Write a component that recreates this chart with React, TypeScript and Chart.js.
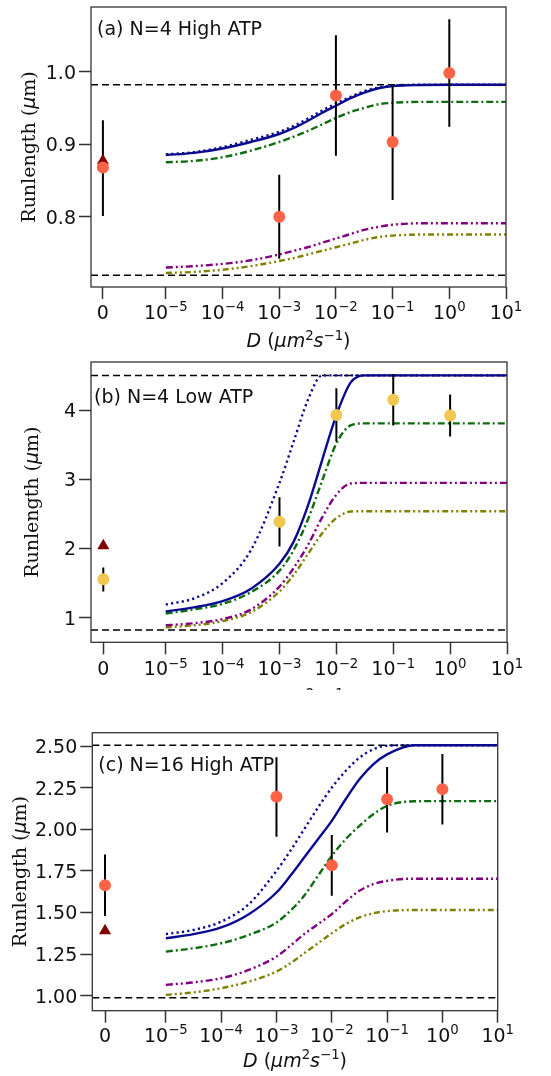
import React, { useEffect, useRef } from 'react';
import { Chart, registerables } from 'chart.js';

Chart.register(...registerables);

const SANS = '"DejaVu Sans", sans-serif';
const SERIF = '"DejaVu Serif", serif';
const FONT_SIZE = 19;
Chart.defaults.font.family = SANS;

// ---------- shared data ----------
const LOG_D_GRID = [-5, -4.5, -4, -3.5, -3, -2.75, -2.5, -2.25, -2, -1.75, -1.5, -1.25, -1, -0.5, 0, 0.5, 1];
const D_MEASURED = [0, 1e-3, 1e-2, 1e-1, 1];
const X_TICK_EXP = [-5, -4, -3, -2, -1, 0, 1];
const X_ZERO_LABEL = '0';
const X_TICK_BASE = '10';

// ---------- (a) N=4 High ATP ----------
const A_MEAN = [0.868, 0.8, 0.967, 0.903, 0.998];
const A_LOW = [0.801, 0.742, 0.884, 0.823, 0.924];
const A_HIGH = [0.933, 0.858, 1.05, 0.981, 1.072];
const A_TRIANGLE = 0.877;
const A_SOLID = [0.885, 0.888, 0.894, 0.903, 0.914, 0.922, 0.932, 0.943, 0.953, 0.963, 0.971, 0.977, 0.98, 0.9815, 0.9818, 0.9818, 0.9818];
const A_DOTTED = [0.886, 0.889, 0.896, 0.906, 0.917, 0.925, 0.935, 0.946, 0.956, 0.965, 0.973, 0.978, 0.981, 0.9818, 0.9818, 0.9818, 0.9818];
const A_DASHDOT = [0.875, 0.877, 0.882, 0.891, 0.903, 0.91, 0.918, 0.927, 0.936, 0.944, 0.95, 0.955, 0.957, 0.9583, 0.9583, 0.9583, 0.9583];
const A_PURPLE = [0.73, 0.732, 0.735, 0.74, 0.748, 0.753, 0.758, 0.764, 0.77, 0.776, 0.782, 0.786, 0.789, 0.791, 0.791, 0.791, 0.791];
const A_OLIVE = [0.7225, 0.724, 0.727, 0.732, 0.739, 0.743, 0.748, 0.753, 0.758, 0.763, 0.768, 0.772, 0.774, 0.7755, 0.7755, 0.7755, 0.7755];
const A_BOUNDS = [0.9818, 0.7195];
const A_Y_TICKS = [0.8, 0.9, 1.0];

// ---------- (b) N=4 Low ATP ----------
const B_MEAN = [1.556, 2.386, 3.933, 4.152, 3.924];
const B_LOW = [1.379, 2.03, 3.548, 3.779, 3.621];
const B_HIGH = [1.726, 2.742, 4.318, 4.525, 4.228];
const B_TRIANGLE = 2.04;
const B_SOLID = [1.09, 1.15, 1.24, 1.42, 1.78, 2.1, 2.62, 3.28, 3.93, 4.4, 4.504, 4.504, 4.504, 4.504, 4.504, 4.504, 4.504];
const B_DOTTED = [1.19, 1.28, 1.5, 1.98, 2.95, 3.55, 4.15, 4.504, 4.504, 4.504, 4.504, 4.504, 4.504, 4.504, 4.504, 4.504, 4.504];
const B_DASHDOT = [1.06, 1.12, 1.2, 1.37, 1.68, 1.98, 2.42, 2.98, 3.52, 3.78, 3.81, 3.81, 3.81, 3.81, 3.81, 3.81, 3.81];
const B_PURPLE = [0.89, 0.92, 0.98, 1.12, 1.45, 1.72, 2.05, 2.45, 2.78, 2.94, 2.95, 2.95, 2.95, 2.95, 2.95, 2.95, 2.95];
const B_OLIVE = [0.86, 0.89, 0.95, 1.08, 1.38, 1.62, 1.92, 2.22, 2.44, 2.535, 2.54, 2.54, 2.54, 2.54, 2.54, 2.54, 2.54];
const B_BOUNDS = [4.504, 0.823];
const B_Y_TICKS = [1, 2, 3, 4];

// ---------- (c) N=16 High ATP ----------
const C_MEAN = [1.663, 2.195, 1.783, 2.18, 2.241];
const C_LOW = [1.479, 1.955, 1.6, 1.981, 2.029];
const C_HIGH = [1.849, 2.432, 1.965, 2.374, 2.452];
const C_TRIANGLE = 1.39;
const C_SOLID = [1.345, 1.37, 1.41, 1.49, 1.62, 1.72, 1.83, 1.94, 2.05, 2.18, 2.3, 2.39, 2.45, 2.505, 2.505, 2.505, 2.505];
const C_DOTTED = [1.37, 1.395, 1.445, 1.55, 1.75, 1.87, 2.0, 2.13, 2.25, 2.35, 2.43, 2.48, 2.502, 2.505, 2.505, 2.505, 2.505];
const C_DASHDOT = [1.265, 1.285, 1.315, 1.365, 1.44, 1.51, 1.6, 1.72, 1.84, 1.94, 2.02, 2.09, 2.14, 2.168, 2.169, 2.169, 2.169];
const C_PURPLE = [1.065, 1.08, 1.105, 1.155, 1.235, 1.3, 1.37, 1.43, 1.49, 1.565, 1.63, 1.67, 1.69, 1.703, 1.703, 1.703, 1.703];
const C_OLIVE = [1.005, 1.02, 1.045, 1.085, 1.145, 1.195, 1.255, 1.315, 1.375, 1.43, 1.47, 1.495, 1.508, 1.515, 1.515, 1.515, 1.515];
const C_BOUNDS = [2.505, 0.988];
const C_Y_TICKS = [1.0, 1.25, 1.5, 1.75, 2.0, 2.25, 2.5];

type Piece = { t: string; it?: boolean; sup?: boolean; serif?: boolean };
const X_TITLE: Piece[] = [
  { t: 'D', it: true },
  { t: ' (' },
  { t: 'μm', it: true },
  { t: '2', sup: true },
  { t: 's', it: true },
  { t: '−1', sup: true },
  { t: ')' },
];
const Y_TITLE: Piece[] = [
  { t: 'Runlength (', serif: true },
  { t: 'μ', it: true },
  { t: 'm)', serif: true },
];

function fontOf(p: Piece, size: number) {
  const s = p.sup ? size * 0.7 : size;
  return `${p.it ? 'italic ' : ''}${s}px ${p.serif ? SERIF : SANS}`;
}

function drawPieces(ctx: CanvasRenderingContext2D, pieces: Piece[], cx: number, y: number, size: number, align = 'center') {
  const widths = pieces.map((p) => {
    ctx.font = fontOf(p, size);
    return ctx.measureText(p.t).width;
  });
  const total = widths.reduce((a, b) => a + b, 0);
  let x = align === 'right' ? cx - total : cx - total / 2;
  pieces.forEach((p, i) => {
    ctx.font = fontOf(p, size);
    ctx.fillText(p.t, x, p.sup ? y - size * 0.38 : y);
    x += widths[i];
  });
}

function xTickPieces(i: number): Piece[] {
  if (i === 0) return [{ t: X_ZERO_LABEL }];
  const e = X_TICK_EXP[i - 1];
  return [{ t: X_TICK_BASE }, { t: (e < 0 ? '−' : '') + Math.abs(e), sup: true }];
}

const panelPlugin = {
  id: 'panelDecor',
  afterDatasetsDraw(chart: any, _args: any, opts: any) {
    const { ctx, chartArea: ca } = chart;
    ctx.save();
    ctx.strokeStyle = '#333';
    ctx.lineWidth = 1.3;
    ctx.strokeRect(ca.left, ca.top, ca.right - ca.left, ca.bottom - ca.top);
    ctx.fillStyle = '#111';
    ctx.font = `${FONT_SIZE}px ${SANS}`;
    ctx.textAlign = 'left';
    ctx.textBaseline = 'alphabetic';
    ctx.fillText(opts.title, ca.left + opts.titleDx, ca.top + opts.titleDy);
    ctx.restore();
  },
  afterDraw(chart: any, _args: any, opts: any) {
    const { ctx, chartArea: ca } = chart;
    const xs = chart.scales.x;
    const ys = chart.scales.y;
    ctx.save();
    ctx.fillStyle = '#111';
    ctx.textAlign = 'left';
    ctx.textBaseline = 'alphabetic';
    opts.xTicks.forEach((v: number, i: number) => {
      drawPieces(ctx, xTickPieces(i), xs.getPixelForValue(v), ca.bottom + opts.xTickDy, FONT_SIZE);
    });
    opts.yTicks.forEach((v: number) => {
      drawPieces(
        ctx,
        [{ t: v.toFixed(opts.yDecimals) }],
        ca.left - 15,
        ys.getPixelForValue(v) + FONT_SIZE * 0.365,
        FONT_SIZE,
        'right'
      );
    });
    drawPieces(ctx, X_TITLE, (ca.left + ca.right) / 2, ca.bottom + opts.xTitleDy, FONT_SIZE);
    ctx.translate(opts.yTitleX, (ca.top + ca.bottom) / 2);
    ctx.rotate(-Math.PI / 2);
    ctx.textBaseline = 'middle';
    drawPieces(ctx, Y_TITLE, 0, 0, FONT_SIZE);
    ctx.restore();
  },
};

type PanelCfg = {
  top: number;
  height: number;
  area: { left: number; right: number; top: number; bottom: number };
  xMin: number;
  zeroX: number;
  yMin: number;
  yMax: number;
  yTicks: number[];
  yDecimals: number;
  mean: number[];
  low: number[];
  high: number[];
  triangle: number;
  curves: number[][];
  bounds: number[];
  pointColor: string;
  title: string;
  titleDx: number;
  titleDy: number;
  yTitleX: number;
  xTitleDy: number;
  xTickDy: number;
};

const CURVE_STYLES = [
  { color: '#0b0b8f', dash: [2.2, 3.2] },
  { color: '#0b0b8f', dash: [] as number[] },
  { color: '#0f6b0f', dash: [7, 3, 2, 3] },
  { color: '#800080', dash: [7, 3, 2, 3, 2, 3] },
  { color: '#808000', dash: [6, 3, 2, 3, 2, 3] },
];

const PANELS: PanelCfg[] = [
  {
    top: 0, height: 355,
    area: { left: 91, right: 506, top: 4, bottom: 287 },
    xMin: -6.32, zeroX: -6.11,
    yMin: 0.7032, yMax: 1.089, yTicks: A_Y_TICKS, yDecimals: 1,
    mean: A_MEAN, low: A_LOW, high: A_HIGH, triangle: A_TRIANGLE,
    curves: [A_DOTTED, A_SOLID, A_DASHDOT, A_PURPLE, A_OLIVE],
    bounds: A_BOUNDS, pointColor: '#FF6347',
    title: '(a) N=4 High ATP', titleDx: 6, titleDy: 27.7, yTitleX: 30, xTitleDy: 60, xTickDy: 31.5,
  },
  {
    top: 355, height: 335,
    area: { left: 91, right: 507, top: 2.7, bottom: 287.3 },
    xMin: -6.314, zeroX: -6.098,
    yMin: 0.644, yMax: 4.698, yTicks: B_Y_TICKS, yDecimals: 0,
    mean: B_MEAN, low: B_LOW, high: B_HIGH, triangle: B_TRIANGLE,
    curves: [B_DOTTED, B_SOLID, B_DASHDOT, B_PURPLE, B_OLIVE],
    bounds: B_BOUNDS, pointColor: '#F0C850',
    title: '(b) N=4 Low ATP', titleDx: 3, titleDy: 40.6, yTitleX: 33, xTitleDy: 63, xTickDy: 32.5,
  },
  {
    top: 690, height: 386,
    area: { left: 92.3, right: 497.7, top: 42.7, bottom: 320.7 },
    xMin: -6.33, zeroX: -6.1,
    yMin: 0.91, yMax: 2.58, yTicks: C_Y_TICKS, yDecimals: 2,
    mean: C_MEAN, low: C_LOW, high: C_HIGH, triangle: C_TRIANGLE,
    curves: [C_DOTTED, C_SOLID, C_DASHDOT, C_PURPLE, C_OLIVE],
    bounds: C_BOUNDS, pointColor: '#FF6347',
    title: '(c) N=16 High ATP', titleDx: 6, titleDy: 38.3, yTitleX: 21, xTitleDy: 56, xTickDy: 31,
  },
];

function Panel({ cfg }: { cfg: PanelCfg }) {
  const ref = useRef<HTMLCanvasElement | null>(null);
  useEffect(() => {
    if (!ref.current) return;
    const toX = (d: number) => (d === 0 ? cfg.zeroX : Math.log10(d));
    const xTicks = [cfg.zeroX, ...X_TICK_EXP];
    const errData: any[] = [];
    D_MEASURED.forEach((d, i) => {
      errData.push({ x: toX(d), y: cfg.low[i] });
      errData.push({ x: toX(d), y: cfg.high[i] });
      errData.push({ x: toX(d), y: null });
    });
    const datasets: any[] = [
      {
        data: D_MEASURED.map((d, i) => ({ x: toX(d), y: cfg.mean[i] })),
        showLine: false, pointRadius: 6, pointBackgroundColor: cfg.pointColor,
        pointBorderWidth: 0, pointHoverRadius: 6, order: 0,
      },
      {
        data: [{ x: cfg.zeroX, y: cfg.triangle }],
        showLine: false, pointStyle: 'triangle', pointRadius: 7, pointBackgroundColor: '#800000',
        pointBorderWidth: 0, order: 1,
      },
      {
        data: errData, borderColor: '#000', borderWidth: 2, pointRadius: 0, spanGaps: false, order: 2,
      },
      ...cfg.curves.map((ys, k) => ({
        data: LOG_D_GRID.map((x, i) => ({ x, y: ys[i] })),
        borderColor: CURVE_STYLES[k].color, borderWidth: 2.4, borderDash: CURVE_STYLES[k].dash,
        borderCapStyle: 'butt', pointRadius: 0, cubicInterpolationMode: 'monotone', order: 3 + k,
      })),
      ...cfg.bounds.map((b, k) => ({
        data: [{ x: cfg.xMin, y: b }, { x: 1, y: b }],
        borderColor: '#000', borderWidth: 1.5, borderDash: [7, 4], pointRadius: 0, order: 10 + k,
      })),
    ];
    const ca = cfg.area;
    const chart = new Chart(ref.current, {
      type: 'line',
      data: { datasets },
      plugins: [panelPlugin as any],
      options: {
        responsive: false,
        animation: false,
        devicePixelRatio: 1,
        events: [],
        layout: { padding: { left: 0, top: ca.top, right: 551 - ca.right, bottom: 0 } },
        plugins: {
          legend: { display: false },
          tooltip: { enabled: false },
          panelDecor: {
            title: cfg.title, titleDx: cfg.titleDx, titleDy: cfg.titleDy,
            yTitleX: cfg.yTitleX, xTitleDy: cfg.xTitleDy, xTickDy: cfg.xTickDy, xTicks,
            yTicks: cfg.yTicks, yDecimals: cfg.yDecimals,
          },
        } as any,
        scales: {
          x: {
            type: 'linear',
            min: cfg.xMin,
            max: 1,
            afterFit: (s: any) => {
              s.height = cfg.height - ca.bottom;
              s.paddingLeft = 0;
              s.paddingRight = 0;
            },
            afterBuildTicks: (s: any) => {
              s.ticks = xTicks.map((v) => ({ value: v }));
            },
            ticks: { display: false, autoSkip: false, maxRotation: 0, minRotation: 0 },
            grid: { drawOnChartArea: false, drawTicks: true, tickLength: 12, tickWidth: 1.5, tickColor: '#333' },
            border: { display: false },
          },
          y: {
            type: 'linear',
            min: cfg.yMin,
            max: cfg.yMax,
            afterFit: (s: any) => {
              s.width = ca.left;
              s.paddingTop = 0;
              s.paddingBottom = 0;
            },
            afterBuildTicks: (s: any) => {
              s.ticks = cfg.yTicks.map((v) => ({ value: v }));
            },
            ticks: { display: false, autoSkip: false },
            grid: { drawOnChartArea: false, drawTicks: true, tickLength: 12, tickWidth: 1.5, tickColor: '#333' },
            border: { display: false },
          },
        },
      } as any,
    });
    return () => chart.destroy();
  }, [cfg]);
  return (
    <canvas
      ref={ref}
      width={551}
      height={cfg.height}
      style={{ position: 'absolute', left: 0, top: cfg.top, width: 551, height: cfg.height, display: 'block' }}
    />
  );
}

export default function App() {
  return (
    <div style={{ position: 'absolute', left: 0, top: 0, width: 551, height: 1076, background: '#fff', overflow: 'hidden' }}>
      {PANELS.map((p, i) => (
        <Panel key={i} cfg={p} />
      ))}
    </div>
  );
}
